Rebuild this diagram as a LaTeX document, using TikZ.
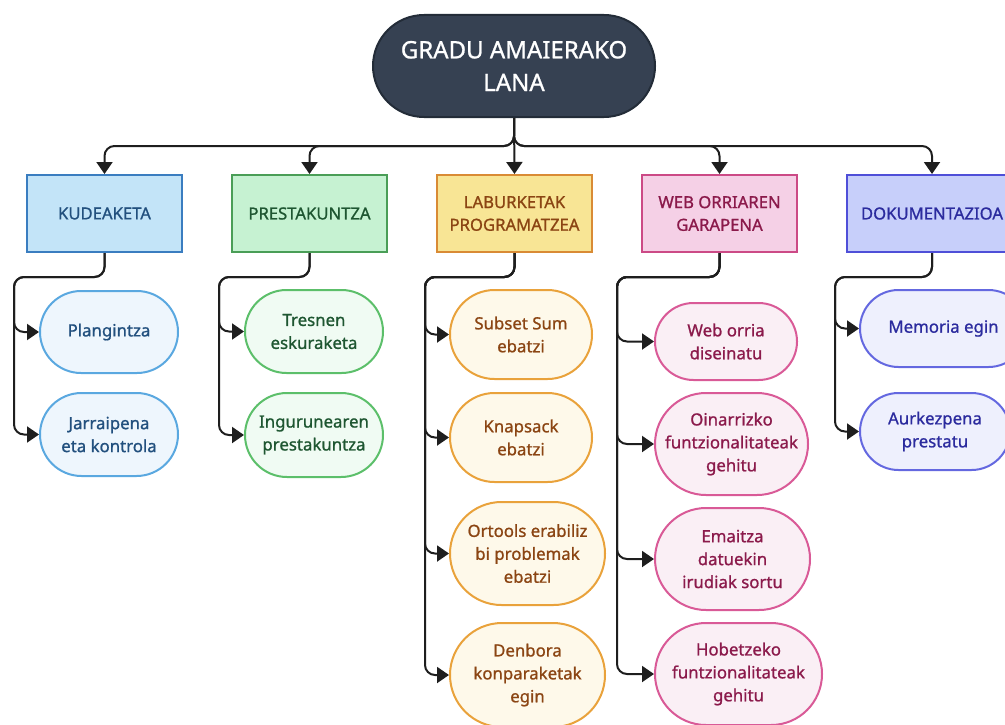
\documentclass[tikz,border=0pt]{standalone}
\usepackage{fontspec}
\setmainfont{Noto Sans}[FakeBold=1]
\usetikzlibrary{arrows.meta}
\definecolor{rootfill}{HTML}{364152}
\definecolor{rootdraw}{HTML}{232C38}
\definecolor{conncol}{HTML}{1E1E1E}
% blue
\definecolor{bHf}{HTML}{C3E4F8}\definecolor{bHd}{HTML}{3A7DC0}\definecolor{bT}{HTML}{22507E}
\definecolor{bLf}{HTML}{EEF6FD}\definecolor{bLd}{HTML}{5AA8E0}
% green
\definecolor{gHf}{HTML}{C6F2D2}\definecolor{gHd}{HTML}{4A9E57}\definecolor{gT}{HTML}{1E5631}
\definecolor{gLf}{HTML}{F0FBF3}\definecolor{gLd}{HTML}{5CBF6A}
% orange
\definecolor{oHf}{HTML}{F8E595}\definecolor{oHd}{HTML}{D98B35}\definecolor{oT}{HTML}{8B4513}
\definecolor{oLf}{HTML}{FEF9EA}\definecolor{oLd}{HTML}{E9A23B}
% pink
\definecolor{pHf}{HTML}{F5D0E6}\definecolor{pHd}{HTML}{CC4A86}\definecolor{pT}{HTML}{8B1A4B}
\definecolor{pLf}{HTML}{FAEFF5}\definecolor{pLd}{HTML}{D95A97}
% indigo
\definecolor{iHf}{HTML}{C7CFFA}\definecolor{iHd}{HTML}{4F4FD8}\definecolor{iT}{HTML}{2B2B9E}
\definecolor{iLf}{HTML}{EEF0FD}\definecolor{iLd}{HTML}{6468E0}
\tikzset{
  rootbox/.style={draw=rootdraw, fill=rootfill, line width=1.5pt, text=white,
    minimum width=282*0.75pt, minimum height=102*0.75pt, rounded corners=51*0.75pt,
    align=center, inner sep=0pt, font=\fontsize{18}{24.5}\selectfont},
  hdr/.style n args={3}{draw=#2, fill=#1, text=#3, line width=1.5pt, align=center,
    inner sep=0pt, minimum height=77*0.75pt, font=\fontsize{12.5}{17}\selectfont},
  leaf/.style n args={3}{draw=#2, fill=#1, text=#3, line width=1.5pt, align=center,
    inner sep=0pt, font=\fontsize{12.6}{17.2}\selectfont},
  sz/.style 2 args={minimum width=#1*0.75pt, minimum height=#2*0.75pt, rounded corners=#2*0.375pt},
  hw/.style={minimum width=#1*0.75pt},
  conn/.style={draw=conncol, line width=1.5pt, rounded corners=7.5pt,
    -{Triangle[length=9pt,width=12pt]}},
}
\begin{document}
\begin{tikzpicture}[x=0.75pt,y=-0.75pt]
\useasboundingbox (0,0) rectangle (1005,724);
\clip (0,0) rectangle (1005,724);

\node[rootbox] (root) at (514,66) {GRADU AMAIERAKO\\LANA};

\node[hdr={bHf}{bHd}{bT}, hw=155] (k) at (104.5,213.5) {KUDEAKETA};
\node[hdr={gHf}{gHd}{gT}, hw=155] (p) at (309.5,213.5) {PRESTAKUNTZA};
\node[hdr={oHf}{oHd}{oT}, hw=155] (l) at (514.5,213.5) {LABURKETAK\\PROGRAMATZEA};
\node[hdr={pHf}{pHd}{pT}, hw=155] (w) at (719.5,213.5) {WEB ORRIAREN\\GARAPENA};
\node[hdr={iHf}{iHd}{iT}, hw=170] (d) at (932,213.5) {DOKUMENTAZIOA};

\node[leaf={bLf}{bLd}{bT}, sz={138}{82}] (k1) at (109,332) {Plangintza};
\node[leaf={bLf}{bLd}{bT}, sz={138}{83}] (k2) at (109,434.5) {Jarraipena\\eta kontrola};

\node[leaf={gLf}{gLd}{gT}, sz={138}{83}] (p1) at (314,331.5) {Tresnen\\eskuraketa};
\node[leaf={gLf}{gLd}{gT}, sz={138}{84}] (p2) at (314,435) {Ingurunearen\\prestakuntza};

\node[leaf={oLf}{oLd}{oT}, sz={142}{89}] (l1) at (521,334.5) {Subset Sum\\ebatzi};
\node[leaf={oLf}{oLd}{oT}, sz={142}{89}] (l2) at (521,437.5) {Knapsack\\ebatzi};
\node[leaf={oLf}{oLd}{oT}, sz={155}{103}] (l3) at (527.5,553.5) {Ortools erabiliz\\bi problemak\\ebatzi};
\node[leaf={oLf}{oLd}{oT}, sz={155}{104}] (l4) at (527.5,675) {Denbora\\konparaketak\\egin};

\node[leaf={pLf}{pLd}{pT}, sz={142}{77}] (w1) at (726,341.5) {Web orria\\diseinatu};
\node[leaf={pLf}{pLd}{pT}, sz={153}{102}] (w2) at (731.5,444) {Oinarrizko\\funtzionalitateak\\gehitu};
\node[leaf={pLf}{pLd}{pT}, sz={155}{102}] (w3) at (732.5,559) {Emaitza\\datuekin\\irudiak sortu};
\node[leaf={pLf}{pLd}{pT}, sz={167}{102}] (w4) at (738.5,674) {Hobetzeko\\funtzionalitateak\\gehitu};

\node[leaf={iLf}{iLd}{iT}, sz={167}{77}] (d1) at (943.5,328.5) {Memoria egin};
\node[leaf={iLf}{iLd}{iT}, sz={150}{77}] (d2) at (935,431.5) {Aurkezpena\\prestatu};

% root connectors
\coordinate (rbus) at (514,146);
\foreach \h in {k,p,w,d}{
  \draw[conn] (root.south) -- (root.south |- rbus) -- (\h.north |- rbus) -- (\h.north);
}
\draw[conn] (root.south) -- (l.north);

% group buses
\coordinate (kb) at (14,277);
\coordinate (pb) at (219,277);
\coordinate (lb) at (425,277);
\coordinate (wb) at (617,277);
\coordinate (db) at (835,277);

\foreach \h/\n in {k/1,k/2,p/1,p/2,l/1,l/2,l/3,l/4,w/1,w/2,w/3,w/4,d/1,d/2}{
  \draw[conn] (\h.south) |- (\h b) |- (\h\n.west);
}
\end{tikzpicture}
\end{document}
